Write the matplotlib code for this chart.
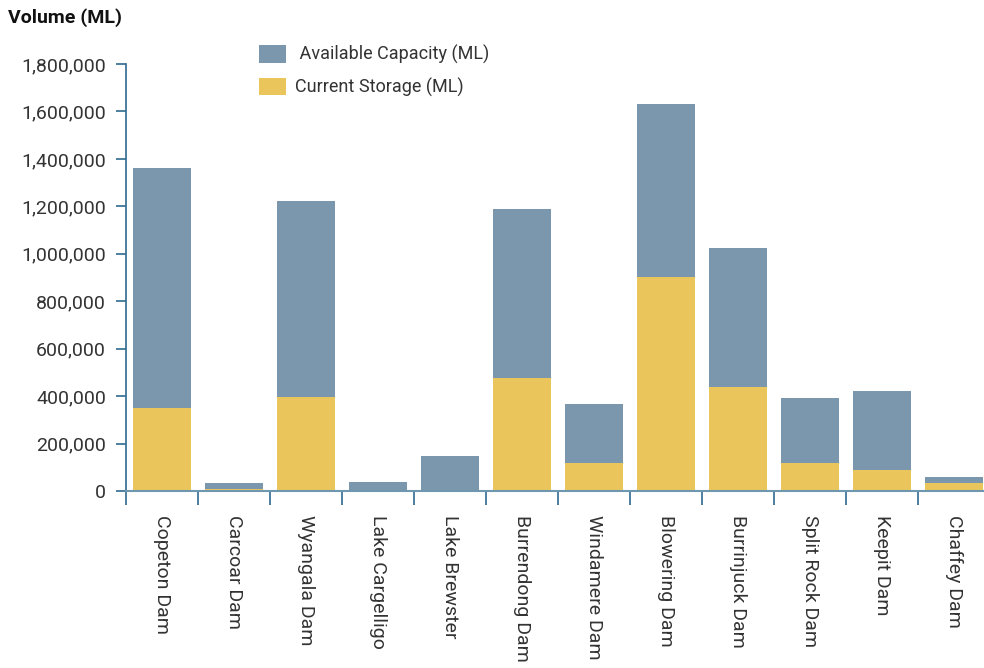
import matplotlib
matplotlib.use("Agg")
import matplotlib.pyplot as plt
import numpy as np

dams = ["Copeton Dam", "Carcoar Dam", "Wyangala Dam", "Lake Cargelligo",
        "Lake Brewster", "Burrendong Dam", "Windamere Dam", "Blowering Dam",
        "Burrinjuck Dam", "Split Rock Dam", "Keepit Dam", "Chaffey Dam"]
current_storage = [350000, 8000, 396000, 0, 1500, 476000,
                   118000, 902000, 438000, 118000, 88500, 33700]
available_capacity = [1011600, 25700, 826500, 36000, 146000, 712750,
                      248700, 729000, 586000, 274000, 333000, 25300]

blue = "#7a97ad"
yellow = "#eac55c"
axis_col = "#2f6a8f"
text_col = "#333333"

plt.rcParams["font.family"] = ["Roboto", "DejaVu Sans"]

fig = plt.figure(figsize=(9.84, 6.68), dpi=100)
ax = fig.add_axes([126 / 984, 177 / 668, 864 / 984, 427 / 668])

x = np.arange(len(dams))
ax.bar(x, current_storage, width=0.8, color=yellow, label="Current Storage (ML)", zorder=2)
ax.bar(x, available_capacity, width=0.8, bottom=current_storage, color=blue,
       label=" Available Capacity (ML)", zorder=2)

ax.set_xlim(-0.5, len(dams) - 0.5)
ax.set_ylim(0, 1800000)
ax.set_yticks(np.arange(0, 1800001, 200000))
ax.yaxis.set_major_formatter(matplotlib.ticker.FuncFormatter(lambda v, p: f"{int(v):,}"))

ax.set_xticks(x)
ax.set_xticklabels(dams, rotation=270, ha="center", va="top")
ax.set_xticks(np.arange(-0.5, len(dams)), minor=True)
ax.tick_params(axis="x", which="major", length=0, pad=17, labelsize=14, labelcolor=text_col)
ax.tick_params(axis="x", which="minor", length=10, width=1.2, color=axis_col)
ax.tick_params(axis="y", length=7.5, width=1.2, color=axis_col, labelsize=14,
               labelcolor=text_col, pad=7)

for s in ["top", "right"]:
    ax.spines[s].set_visible(False)
ax.spines["left"].set_color(axis_col)
ax.spines["left"].set_linewidth(1.2)
ax.spines["bottom"].set_color("#6f97b0")
ax.spines["bottom"].set_linewidth(1.5)

handles, labels = ax.get_legend_handles_labels()
fig.legend(handles[::-1], labels[::-1], loc="upper left", bbox_to_anchor=(243 / 984, 1 - 29 / 668),
           frameon=False, fontsize=13, handlelength=1.5, handleheight=1.1,
           handletextpad=0.5, labelspacing=0.75, labelcolor=text_col)

fig.text(8 / 984, 1 - 18 / 668, "Volume (ML)", fontsize=14, fontweight="bold",
         color="#111111", va="center", ha="left")

fig.savefig("out.png", dpi=100)
